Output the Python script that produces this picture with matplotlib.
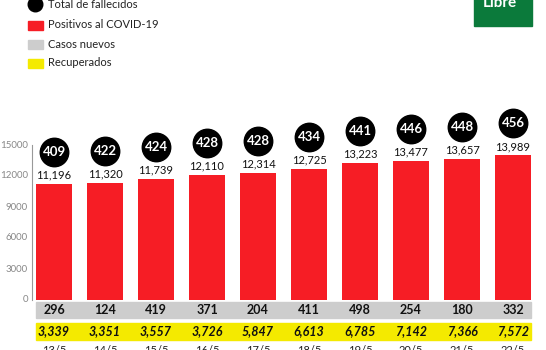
import matplotlib.pyplot as plt
from matplotlib.patches import Rectangle

# COVID-19 República Dominicana, 13 al 22 de mayo
fechas = ["13/5", "14/5", "15/5", "16/5", "17/5", "18/5", "19/5", "20/5", "21/5", "22/5"]
positivos = [11196, 11320, 11739, 12110, 12314, 12725, 13223, 13477, 13657, 13989]
fallecidos = [409, 422, 424, 428, 428, 434, 441, 446, 448, 456]
nuevos = [296, 124, 419, 371, 204, 411, 498, 254, 180, 332]
recuperados = [3339, 3351, 3557, 3726, 5847, 6613, 6785, 7142, 7366, 7572]
yticks = [0, 3000, 6000, 9000, 12000, 15000]

ROJO = "#f61d25"
GRIS = "#cdcdcd"
AMARILLO = "#f4ea00"
VERDE = "#0b7a3b"

plt.rcParams["font.family"] = ["Lato", "DejaVu Sans"]

fig = plt.figure(figsize=(5.46, 3.5), dpi=100)
ax = fig.add_axes([0, 0, 1, 1])
ax.set_facecolor("none")

# escala: 155 px por 15000 casos, el cero a 300 px desde arriba
u = 15000 / 155
ax.set_ylim(-50 * u, 300 * u)
ax.set_xlim(-54 / 51, (546 - 54) / 51)

x = list(range(len(fechas)))
w = 36 / 51
ax.bar(x, positivos, width=w, color=ROJO, zorder=2)

for i in x:
    ax.annotate(f"{positivos[i]:,}", (i, positivos[i]), xytext=(0, 9), textcoords="offset pixels",
                ha="center", va="center", fontsize=8, color="#111111")
    ax.scatter([i], [positivos[i] + 32 * u], s=420, color="black", zorder=3)
    ax.text(i, positivos[i] + 32 * u, str(fallecidos[i]), ha="center", va="center",
            fontsize=9.5, fontweight="bold", color="white", zorder=4)

# franjas de casos nuevos y recuperados
left = -w / 2
right = len(fechas) - 1 + w / 2
ax.add_patch(Rectangle((left, -18 * u), right - left, 16 * u, color=GRIS, zorder=1))
ax.add_patch(Rectangle((left, -40 * u), right - left, 17 * u, color=AMARILLO, zorder=1))
for i in x:
    ax.text(i, -10 * u, str(nuevos[i]), ha="center", va="center", fontsize=9,
            fontweight="bold", color="#111111")
    ax.text(i, -31.5 * u, f"{recuperados[i]:,}", ha="center", va="center", fontsize=9,
            fontweight="bold", style="italic", color="#111111")
    ax.text(i, -45 * u, fechas[i], ha="center", va="top", fontsize=8, color="#222222")

# eje vertical
ax.plot([-64 / 51 * 0 + (32 - 54) / 51] * 2, [0, 15000], color="#999999", lw=0.8)
for t in yticks:
    ax.text((28 - 54) / 51, t, str(t), ha="right", va="center", fontsize=7, color="#888888")

ax.axis("off")

# leyenda y logo en coordenadas de pixel
ov = fig.add_axes([0, 0, 1, 1])
ov.set_xlim(0, 546)
ov.set_ylim(350, 0)
ov.axis("off")
ov.set_facecolor("none")
ov.scatter([35], [4], s=110, color="black")
ov.text(48, 4, "Total de fallecidos", va="center", fontsize=8, color="#222222")
leyenda = [("Positivos al COVID-19", ROJO, 25), ("Casos nuevos", GRIS, 44), ("Recuperados", AMARILLO, 63)]
for nombre, color, yy in leyenda:
    ov.add_patch(Rectangle((28, yy - 4.5), 15, 9, color=color))
    ov.text(48, yy, nombre, va="center", fontsize=8, color="#222222")

ov.add_patch(Rectangle((474, -2), 58, 28, color=VERDE))
ov.text(500, 3, "Libre", ha="center", va="center", fontsize=11, fontweight="bold", color="white")

fig.savefig("out.png", dpi=100)
